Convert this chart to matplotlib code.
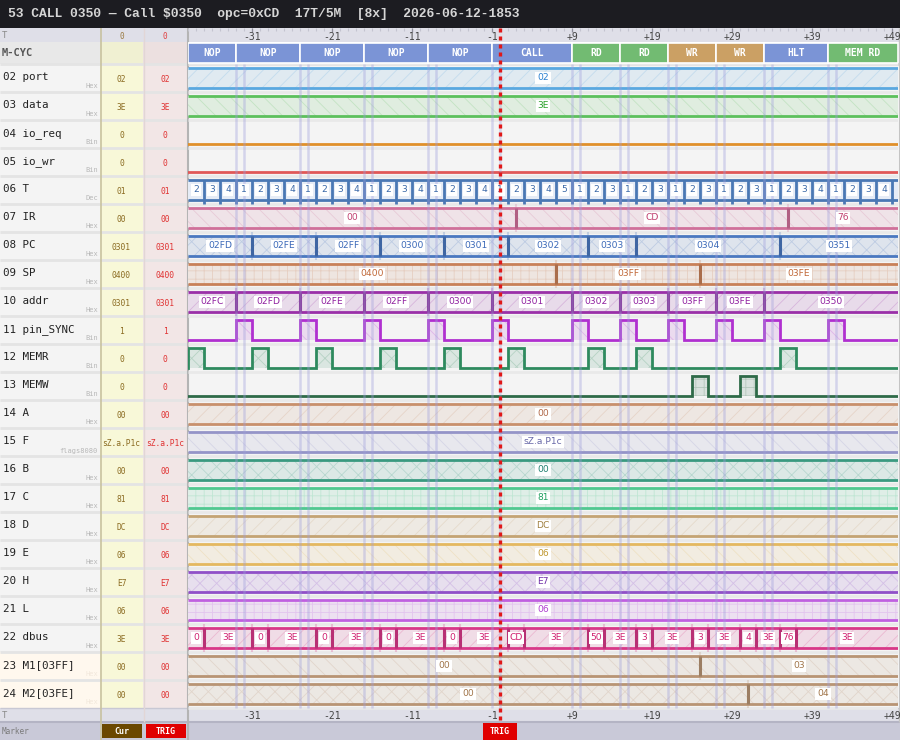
import matplotlib
matplotlib.use("Agg")
import matplotlib.pyplot as plt
import matplotlib.patches as mpatches
import matplotlib.colors as mcolors


# ---- capture data ----
title_text = "53 CALL 0350 \u2014 Call $0350  opc=0xCD  17T/5M  [8x]  2026-06-12-1853"

t_start = -39
t_end = 49.75
trig_t = 0

tick_pos = [-31, -21, -11, -1, 9, 19, 29, 39, 49]
tick_text = ["-31", "-21", "-11", "-1", "+9", "+19", "+29", "+39", "+49"]

mcyc_start = [-39, -33, -25, -17, -9, -1, 9, 15, 21, 27, 33, 41]
mcyc_name = ["NOP", "NOP", "NOP", "NOP", "NOP", "CALL", "RD", "RD", "WR", "WR", "HLT", "MEM RD"]

tstate_vals = [2, 3, 4, 1, 2, 3, 4, 1, 2, 3, 4, 1, 2, 3, 4, 1, 2, 3, 4,
	1, 2, 3, 4, 5, 1, 2, 3, 1, 2, 3, 1, 2, 3, 1, 2, 3, 1, 2, 3, 4, 1, 2, 3, 4, 5]

row_names = ["02 port", "03 data", "04 io_req", "05 io_wr", "06 T", "07 IR", "08 PC",
	"09 SP", "10 addr", "11 pin_SYNC", "12 MEMR", "13 MEMW", "14 A", "15 F", "16 B",
	"17 C", "18 D", "19 E", "20 H", "21 L", "22 dbus", "23 M1[03FF]", "24 M2[03FE]"]
row_fmt = ["Hex", "Hex", "Bin", "Bin", "Dec", "Hex", "Hex", "Hex", "Hex", "Bin", "Bin", "Bin",
	"Hex", "flags8080", "Hex", "Hex", "Hex", "Hex", "Hex", "Hex", "Hex", "Hex", "Hex"]
cur_vals = ["02", "3E", "0", "0", "01", "00", "0301", "0400", "0301", "1", "0", "0",
	"00", "sZ.a.P1c", "00", "81", "DC", "06", "E7", "06", "3E", "00", "00"]
trig_vals = ["02", "3E", "0", "0", "01", "00", "0301", "0400", "0301", "1", "0", "0",
	"00", "sZ.a.P1c", "00", "81", "DC", "06", "E7", "06", "3E", "00", "00"]

port_t = [-39]
port_v = ["02"]
data_t = [-39]
data_v = ["3E"]
ir_t = [-39, 2, 36]
ir_v = ["00", "CD", "76"]
pc_t = [-39, -31, -23, -15, -7, 1, 11, 17, 35]
pc_v = ["02FD", "02FE", "02FF", "0300", "0301", "0302", "0303", "0304", "0351"]
sp_t = [-39, 7, 25]
sp_v = ["0400", "03FF", "03FE"]
addr_t = [-39, -33, -25, -17, -9, -1, 9, 15, 21, 27, 33]
addr_v = ["02FC", "02FD", "02FE", "02FF", "0300", "0301", "0302", "0303", "03FF", "03FE", "0350"]
a_t = [-39]
a_v = ["00"]
f_t = [-39]
f_v = ["sZ.a.P1c"]
b_t = [-39]
b_v = ["00"]
c_t = [-39]
c_v = ["81"]
d_t = [-39]
d_v = ["DC"]
e_t = [-39]
e_v = ["06"]
h_t = [-39]
h_v = ["E7"]
l_t = [-39]
l_v = ["06"]
dbus_t = [-39, -37, -31, -29, -23, -21, -15, -13, -7, -5, 1, 3, 11, 13, 17, 19, 24, 26, 30, 32, 35, 37]
dbus_v = ["0", "3E", "0", "3E", "0", "3E", "0", "3E", "0", "3E", "CD", "3E",
	"50", "3E", "3", "3E", "3", "3E", "4", "3E", "76", "3E"]
m1_t = [-39, 25]
m1_v = ["00", "03"]
m2_t = [-39, 31]
m2_v = ["00", "04"]

# high pulses (start times), each pulse lasts pulse_len samples
ioreq_hi = []
iowr_hi = []
sync_hi = [-33, -25, -17, -9, -1, 9, 15, 21, 27, 33, 41]
memr_hi = [-39, -31, -23, -15, -7, 1, 11, 17, 35]
memw_hi = [24, 30]
pulse_len = 2


# ---- look ----
row_color = ["#5aa8e0", "#5cc05c", "#e0902a", "#e05858", "#4a78b4", "#d0709a", "#4a78c0",
	"#c88058", "#9a30a8", "#b030d0", "#2e8a5e", "#2e6a48", "#c8906c", "#9494c8", "#3a9a80",
	"#50c890", "#c4a474", "#e4b860", "#9050c8", "#c060e0", "#d83888", "#b89474", "#b89474"]
row_tcol = ["#2a80d0", "#28a028", "#d07818", "#d04040", "#3a68a8", "#c04070", "#3a68b8",
	"#c06838", "#9020a0", "#9020c0", "#207050", "#205a38", "#b06848", "#6868a8", "#208070",
	"#20a060", "#a08040", "#c09830", "#7030a8", "#b040d0", "#d02070", "#a07448", "#a07448"]
mcyc_color = {"NOP": "#7b94d6", "CALL": "#7b94d6", "HLT": "#7b94d6",
	"RD": "#72bb72", "MEM RD": "#72bb72", "WR": "#cba064"}
hatches = ["//", "\\\\", "xx", "++"]

mono = "DejaVu Sans Mono"
row_h = 28
rows_top = 64
plt.rcParams["hatch.linewidth"] = 0.6


def mix(c, a, bg = "#f4f4f4"):

	c1 = mcolors.to_rgb(c)
	c2 = mcolors.to_rgb(bg)
	return tuple(a * x + (1 - a) * y for x, y in zip(c1, c2))

#end_def


def seg_label(ax, x, y, txt, col, size = 6.6):

	ax.text(x, y, txt, ha = "center", va = "center", color = col, fontsize = size,
		family = "DejaVu Sans", zorder = 6,
		bbox = dict(boxstyle = "square,pad=0.18", fc = "white", ec = "none"))

#end_def


def hatch_rect(ax, a, b, top, bot, col, hatch):

	ax.add_patch(mpatches.Rectangle((a, top), b - a, bot - top, fc = mix(col, 0.13),
		ec = "none", zorder = 1))
	ax.add_patch(mpatches.Rectangle((a, top), b - a, bot - top, fill = False, hatch = hatch,
		ec = mix(col, 0.32), lw = 0, zorder = 1.1))

#end_def


def draw_bus(ax, y0, times, vals, col, tcol, hatch):

	top = y0 + 4
	bot = y0 + row_h - 4
	ends = times[1:] + [t_end]

	for a, b, v in zip(times, ends, vals):
		hatch_rect(ax, a, b, top, bot, col, hatch)
		seg_label(ax, (a + b) / 2.0, (top + bot) / 2.0, v, tcol)
	#end_for

	ax.hlines([top, bot], t_start, t_end, colors = col, lw = 2, zorder = 3)
	for a in times[1:]:
		ax.vlines(a, top - 4, bot + 4, colors = col, lw = 1.5, alpha = 0.25, zorder = 2)
		ax.vlines(a, top, bot, colors = mix(col, 0.85, "#000000"), lw = 2.2, zorder = 3)
	#end_for

#end_def


def draw_bit(ax, y0, highs, col, hatch):

	hi = y0 + 4
	lo = y0 + row_h - 4
	xs = [t_start]
	ys = [lo]

	for a in highs:
		b = a + pulse_len
		hatch_rect(ax, a, b, hi, lo, col, hatch)
		xs += [a, a, b, b]
		ys += [lo, hi, hi, lo]
	#end_for

	xs.append(t_end)
	ys.append(lo)
	ax.plot(xs, ys, color = col, lw = 2, zorder = 3, solid_joinstyle = "miter")

#end_def


def draw_tstates(ax, y0, vals, col, tcol):

	top = y0 + 4
	bot = y0 + row_h - 4

	for i, v in enumerate(vals):
		a = t_start + pulse_len * i
		b = a + pulse_len
		ax.add_patch(mpatches.Rectangle((a, top), b - a, bot - top, fc = "#e6ecf6",
			ec = "none", zorder = 1))
		if (a + 1 < t_end):
			seg_label(ax, a + 1, (top + bot) / 2.0, str(v), tcol, 6.6)
		#end_if
		if (i > 0):
			ax.vlines(a, top, bot + 4, colors = col, lw = 2, zorder = 3)
		#end_if
	#end_for

	ax.hlines([top, bot], t_start, t_end, colors = col, lw = 2, zorder = 3)

#end_def


def main():

	fig = plt.figure(figsize = (9, 7.4), dpi = 100)

	# chrome / side columns in pixel coordinates
	bg = fig.add_axes([0, 0, 1, 1])
	bg.set_xlim(0, 900)
	bg.set_ylim(740, 0)
	bg.axis("off")

	bg.add_patch(mpatches.Rectangle((0, 0), 900, 28, fc = "#1c1c21", ec = "none"))
	bg.text(8, 14.5, title_text, color = "#d6d6d6", fontsize = 9.35, family = "Liberation Mono",
		fontweight = "bold", va = "center", ha = "left")

	# header and footer rows
	bg.add_patch(mpatches.Rectangle((0, 28), 900, 14, fc = "#dfdfe8", ec = "none"))
	bg.add_patch(mpatches.Rectangle((0, 708), 900, 14, fc = "#dfdfe8", ec = "none"))
	bg.add_patch(mpatches.Rectangle((0, 722), 900, 18, fc = "#c9c9d8", ec = "none"))
	bg.hlines(722, 0, 900, colors = "#b4b4c4", lw = 1.5)
	bg.hlines(708, 0, 900, colors = "#c8c8d4", lw = 1)
	for yy in [35, 715]:
		bg.text(2, yy, "T", color = "#8a8a8a", fontsize = 6.5, family = mono, va = "center")
	#end_for
	bg.text(121.5, 36.5, "0", color = "#9a7a40", fontsize = 5.5, family = mono, ha = "center", va = "center")
	bg.text(165, 36.5, "0", color = "#e04040", fontsize = 5.5, family = mono, ha = "center", va = "center")

	# M-CYC row
	bg.add_patch(mpatches.Rectangle((0, 42), 100, 22, fc = "#e8e8e8", ec = "none"))
	bg.add_patch(mpatches.Rectangle((100, 42), 43, 22, fc = "#f0f0d2", ec = "none"))
	bg.add_patch(mpatches.Rectangle((143, 42), 44, 22, fc = "#ece0e0", ec = "none"))
	bg.text(2, 53.5, "M-CYC", color = "#555555", fontsize = 7.5, family = mono,
		fontweight = "bold", va = "center")

	# signal label rows
	for i, name in enumerate(row_names):
		y0 = rows_top + row_h * i
		lab_bg = "#fff8ee" if name.startswith(("23", "24")) else "#f4f4f4"
		fmt_col = "#f2e8dc" if name.startswith(("23", "24")) else "#b8b8b8"
		bg.add_patch(mpatches.Rectangle((0, y0), 100, row_h, fc = lab_bg, ec = "none"))
		bg.add_patch(mpatches.Rectangle((100, y0), 43, row_h, fc = "#f8f8d8", ec = "none"))
		bg.add_patch(mpatches.Rectangle((143, y0), 44, row_h, fc = "#f2e6e6", ec = "none"))
		bg.hlines(y0, 0, 187, colors = "#e4e4e4", lw = 2)
		bg.text(3, y0 + 13.5, name, color = "#222222", fontsize = 7.8, family = mono, va = "center")
		bg.text(98, y0 + 22.5, row_fmt[i], color = fmt_col, fontsize = 5, family = mono,
			ha = "right", va = "center")
		bg.text(121.5, y0 + 16, cur_vals[i], color = "#8a6a20", fontsize = 5.7, family = mono,
			ha = "center", va = "center")
		bg.text(165, y0 + 16, trig_vals[i], color = "#e03030", fontsize = 5.7, family = mono,
			ha = "center", va = "center")
	#end_for

	bg.add_patch(mpatches.Rectangle((188, 64), 710, 644, fc = "#f4f4f4", ec = "none"))
	bg.vlines(100.5, 28, 740, colors = "#c8c2a0", lw = 1.2)
	bg.vlines(143.5, 28, 722, colors = "#e2d6d6", lw = 1)
	bg.vlines(187.5, 28, 740, colors = "#b4b4b4", lw = 1.5)
	bg.vlines(898.5, 28, 722, colors = "#c4c4c4", lw = 1)
	bg.hlines(64, 188, 898, colors = "#b8b8b8", lw = 2)

	# marker row
	bg.text(2, 732, "Marker", color = "#7a7a7a", fontsize = 5.5, family = mono, va = "center")
	bg.add_patch(mpatches.Rectangle((102, 724), 40, 14, fc = "#6b4800", ec = "none"))
	bg.text(122, 731.5, "Cur", color = "white", fontsize = 6, family = mono, fontweight = "bold",
		ha = "center", va = "center")
	bg.add_patch(mpatches.Rectangle((146, 724), 40, 14, fc = "#e00000", ec = "none"))
	bg.text(166, 731.5, "TRIG", color = "white", fontsize = 6, family = mono, fontweight = "bold",
		ha = "center", va = "center")

	# waveform axes, x in sample units, y in pixel rows
	ax = fig.add_axes([188 / 900.0, 0, 710 / 900.0, 712 / 740.0])
	ax.set_xlim(t_start, t_end)
	ax.set_ylim(740, 28)
	ax.axis("off")
	ax.patch.set_alpha(0)

	# time ticks in header / footer
	for p in range(t_start, int(t_end) + 1):
		ax.vlines(p, 28, 30.5, colors = "#c4c4d0", lw = 0.8)
	#end_for
	ax.vlines(tick_pos, 28, 32, colors = "#8c8c98", lw = 0.9)
	for p, s in zip(tick_pos, tick_text):
		ax.text(p, 36.5, s, ha = "center", va = "center", fontsize = 7, family = mono, color = "#444444")
		ax.text(p, 716, s, ha = "center", va = "center", fontsize = 7, family = mono, color = "#444444")
	#end_for

	# machine cycles
	mc_end = mcyc_start[1:] + [t_end]
	for a, b, nm in zip(mcyc_start, mc_end, mcyc_name):
		ax.add_patch(mpatches.Rectangle((a, 43), b - a, 20, fc = mcyc_color[nm], ec = "white",
			lw = 1.2, zorder = 2))
		ax.text((a + b) / 2.0, 53.5, nm, ha = "center", va = "center", color = "white",
			fontsize = 7, family = mono, fontweight = "bold", zorder = 3)
	#end_for

	# row separators
	for i in range(len(row_names) + 1):
		ax.hlines(rows_top + row_h * i, t_start, t_end, colors = "#e9e9e9", lw = 2, zorder = 0.5)
	#end_for

	bus_rows = {0: (port_t, port_v), 1: (data_t, data_v), 5: (ir_t, ir_v), 6: (pc_t, pc_v),
		7: (sp_t, sp_v), 8: (addr_t, addr_v), 12: (a_t, a_v), 13: (f_t, f_v), 14: (b_t, b_v),
		15: (c_t, c_v), 16: (d_t, d_v), 17: (e_t, e_v), 18: (h_t, h_v), 19: (l_t, l_v),
		20: (dbus_t, dbus_v), 21: (m1_t, m1_v), 22: (m2_t, m2_v)}
	bit_rows = {2: ioreq_hi, 3: iowr_hi, 9: sync_hi, 10: memr_hi, 11: memw_hi}

	for i in range(len(row_names)):
		y0 = rows_top + row_h * i
		if (i in bus_rows):
			draw_bus(ax, y0, bus_rows[i][0], bus_rows[i][1], row_color[i], row_tcol[i], hatches[i % 4])
		elif (i in bit_rows):
			draw_bit(ax, y0, bit_rows[i], row_color[i], hatches[i % 4])
		else:
			draw_tstates(ax, y0, tstate_vals, row_color[i], row_tcol[i])
		#end_if
	#end_for

	# cycle boundary guides
	guide = []
	for s in mcyc_start[1:]:
		guide += [s, s + 1]
	#end_for
	ax.vlines(guide, 64, 708, colors = "#9f9fdc", lw = 1.8, alpha = 0.38, zorder = 4)

	# trigger
	ax.vlines(trig_t, 28, 724, colors = "#e01818", lw = 2.4, linestyles = (0, (1.2, 1.2)), zorder = 7)
	ax.add_patch(mpatches.Rectangle((trig_t - 2.1, 723), 4.2, 17, fc = "#e00000", ec = "none", zorder = 8))
	ax.text(trig_t, 731.5, "TRIG", color = "white", fontsize = 6, family = mono, fontweight = "bold",
		ha = "center", va = "center", zorder = 9)

	fig.savefig("out.png", dpi = 100)

#end_def


main()
